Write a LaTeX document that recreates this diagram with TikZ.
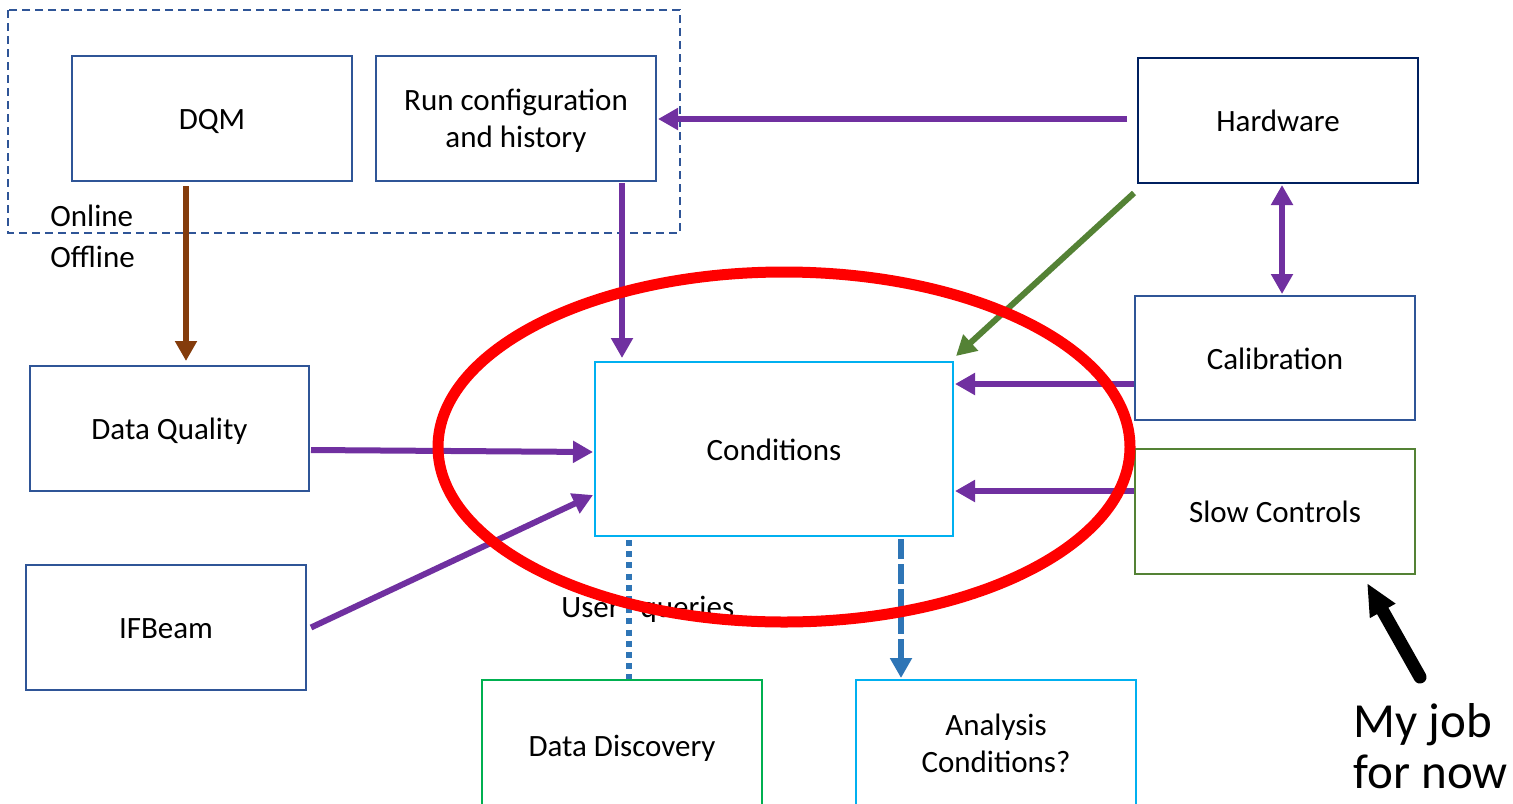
\documentclass[tikz,border=0pt]{standalone}
\usepackage{fontspec}
\setmainfont{Carlito}
\usetikzlibrary{arrows.meta}

\definecolor{boxblue}{RGB}{47,85,151}
\definecolor{navy}{RGB}{0,32,96}
\definecolor{skyline}{RGB}{0,176,240}
\definecolor{olive}{RGB}{84,130,53}
\definecolor{leaf}{RGB}{0,176,80}
\definecolor{violet}{RGB}{112,48,160}
\definecolor{rust}{RGB}{132,60,12}
\definecolor{steel}{RGB}{46,117,182}

\tikzset{
  blk/.style={draw=boxblue, line width=1pt, fill=white, inner sep=0pt,
    minimum width=140pt, minimum height=62.5pt, align=center,
    font=\fontsize{15.5}{18.5}\selectfont},
  one/.style={text height=11pt, text depth=0pt},
  tip/.style={-{Triangle[length=10pt,width=10.5pt]}},
  flow/.style={draw=violet, line width=3pt, tip},
  lbl/.style={font=\fontsize{15.5}{18.5}\selectfont, inner sep=0pt},
}

\begin{document}
\begin{tikzpicture}[x=0.5pt, y=-0.5pt]
\clip (0,0) rectangle (1513,803);
\fill[white] (0,0) rectangle (1513,803);

% online area
\draw[boxblue, line width=0.8pt, dash pattern=on 4pt off 2.5pt]
  (8,10) rectangle (680,233);

% boxes
\node[blk, one] (dqm) at (212,118.5) {DQM};
\node[blk, text depth=0pt] (run) at (516,118.5) {Run configuration\\and history};
\node[blk, one, draw=navy] (hw) at (1278,120.5) {Hardware};
\node[blk, one, minimum height=62pt] (cal) at (1275,358) {Calibration};
\node[blk, one, draw=olive] (slow) at (1275,511.5) {Slow Controls};
\node[blk, one, minimum width=139.5pt] (dq) at (169.5,428.5) {Data Quality};
\node[blk, one] (ifb) at (166,627.5) {IFBeam};
\node[blk, one, draw=skyline, minimum width=179pt, minimum height=87pt] (cond) at (774,449) {Conditions};
\node[blk, one, draw=leaf, minimum height=65pt] (dd) at (622,745) {Data Discovery};
\node[blk, draw=skyline, minimum height=63pt] (ana) at (996,743) {Analysis\\Conditions?};

% labels
\node[lbl, anchor=west] (online) at (50,216) {Online};
\node[lbl, anchor=west] (offline) at (50,257) {Offline};
\node[lbl, anchor=base west] (uq) at (561,617) {User\hspace{10.5pt}queries};

% connectors
\draw[flow, draw=rust]
  ([shift={(-26,4)}]dqm.south) -- ([shift={(16.5,-4)}]dq.north);
\draw[flow] ([shift={(106,1)}]run.south) -- ([shift={(-152,-3)}]cond.north);
\draw[flow] ([shift={(-10,-1.5)}]hw.west) -- ([shift={(1,0.5)}]run.east);
\draw[flow, draw=olive] ([shift={(-3,9)}]hw.south west) -- ([shift={(2,-5)}]cond.north east);
\draw[flow, {Triangle[length=10pt,width=10.5pt]}-{Triangle[length=10pt,width=10.5pt]}]
  ([shift={(4,1)}]hw.south) -- ([shift={(7,-1)}]cal.north);
\draw[flow] ([shift={(0,26)}]cal.west) -- ([shift={(1,-65)}]cond.east);
\draw[flow] ([shift={(0,-20.5)}]slow.west) -- ([shift={(1,42)}]cond.east);
\draw[flow] ([shift={(1,21.5)}]dq.east) -- ([shift={(-1,3)}]cond.west);
\draw[flow] ([shift={(4,0)}]ifb.east) -- ([shift={(-1,46)}]cond.west);
\draw[steel, line width=3pt, dash pattern=on 3pt off 2.6pt]
  ([shift={(-145,3)}]cond.south) -- ([shift={(7,0)}]dd.north);
\draw[steel, line width=3pt, dash pattern=on 10pt off 2.5pt, tip]
  ([shift={(127,2)}]cond.south) -- ([shift={(-95,-1)}]ana.north);

% pointer
\coordinate (jobtail) at (1420,677);
\draw[black, line width=6.5pt, line cap=round, -{Triangle[length=16pt,width=13.5pt]}]
  (jobtail) -- ([shift={(-49,8)}]slow.south east);
\node[anchor=base west, inner sep=0pt, font=\fontsize{24.5}{29}\selectfont] (myjob) at (1353,737) {My job};
\node[anchor=base west, inner sep=0pt, font=\fontsize{24.5}{29}\selectfont] (fornow) at (1353,788) {for now};

% highlight
\draw[red, line width=5.5pt] (784,447) ellipse [x radius=173pt, y radius=87.5pt];
\end{tikzpicture}
\end{document}
